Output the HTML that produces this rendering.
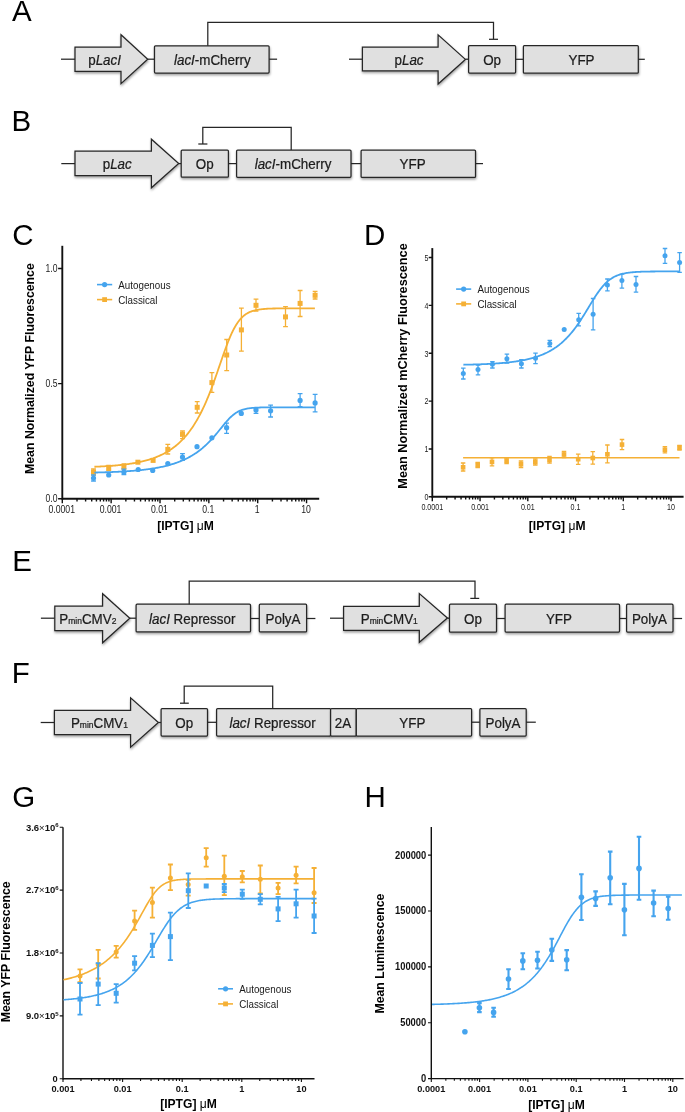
<!DOCTYPE html>
<html><head><meta charset="utf-8"><style>
html,body{margin:0;padding:0;background:#fff;}
svg{display:block;font-family:"Liberation Sans",sans-serif;will-change:transform;}
</style></head><body>
<svg width="685" height="1112" viewBox="0 0 685 1112">
<defs><filter id="sh" x="-10%" y="-20%" width="120%" height="150%"><feDropShadow dx="0.4" dy="1.6" stdDeviation="0.9" flood-color="#000" flood-opacity="0.38"/></filter></defs>
<rect width="685" height="1112" fill="#fff"/>
<text transform="translate(12,21.3) scale(1,1.03)" font-size="29.5" text-anchor="start" font-weight="normal" fill="#000" >A</text>
<text transform="translate(11.4,130.8) scale(1,1.03)" font-size="29.5" text-anchor="start" font-weight="normal" fill="#000" >B</text>
<text transform="translate(12.2,244.6) scale(1,1.03)" font-size="29.5" text-anchor="start" font-weight="normal" fill="#000" >C</text>
<text transform="translate(363.9,244.6) scale(1,1.03)" font-size="29.5" text-anchor="start" font-weight="normal" fill="#000" >D</text>
<text transform="translate(12.2,570.9) scale(1,1.03)" font-size="29.5" text-anchor="start" font-weight="normal" fill="#000" >E</text>
<text transform="translate(11.8,683.4) scale(1,1.03)" font-size="29.5" text-anchor="start" font-weight="normal" fill="#000" >F</text>
<text transform="translate(12.2,806.6) scale(1,1.03)" font-size="29.5" text-anchor="start" font-weight="normal" fill="#000" >G</text>
<text transform="translate(364.4,806.5) scale(1,1.03)" font-size="29.5" text-anchor="start" font-weight="normal" fill="#000" >H</text>
<line x1="61" y1="59.2" x2="75" y2="59.2" stroke="#262626" stroke-width="1.25" />
<polygon points="75,47.2 121,47.2 121,34.7 147.7,59.2 121,83.7 121,71.3 75,71.3" fill="#e0e0e0" stroke="#262626" stroke-width="1.25" stroke-linejoin="miter" filter="url(#sh)"/>
<line x1="147.7" y1="59.2" x2="154.5" y2="59.2" stroke="#262626" stroke-width="1.25" />
<rect x="154.5" y="45.8" width="114.6" height="27.2" rx="1" fill="#e0e0e0" stroke="#262626" stroke-width="1.25" filter="url(#sh)"/>
<line x1="269.1" y1="59.2" x2="277.1" y2="59.2" stroke="#262626" stroke-width="1.25" />
<polyline points="207.8,45.8 207.8,22.4 493.5,22.4 493.5,39.3" stroke="#262626" stroke-width="1.25" fill="none" />
<line x1="489" y1="39.3" x2="498" y2="39.3" stroke="#262626" stroke-width="1.25" />
<line x1="349" y1="59.2" x2="362.4" y2="59.2" stroke="#262626" stroke-width="1.25" />
<polygon points="362.4,47.2 438.1,47.2 438.1,34.8 465.4,59.4 438.1,84 438.1,70.8 362.4,70.8" fill="#e0e0e0" stroke="#262626" stroke-width="1.25" stroke-linejoin="miter" filter="url(#sh)"/>
<line x1="465.4" y1="59.2" x2="468.6" y2="59.2" stroke="#262626" stroke-width="1.25" />
<rect x="468.6" y="45.6" width="47" height="27.4" rx="1" fill="#e0e0e0" stroke="#262626" stroke-width="1.25" filter="url(#sh)"/>
<line x1="515.6" y1="59.3" x2="523.4" y2="59.3" stroke="#262626" stroke-width="1.25" />
<rect x="523.4" y="45.6" width="114.9" height="27.6" rx="1" fill="#e0e0e0" stroke="#262626" stroke-width="1.25" filter="url(#sh)"/>
<line x1="638.3" y1="59.3" x2="644.8" y2="59.3" stroke="#262626" stroke-width="1.25" />
<text transform="translate(104.6,64.5) scale(1,1.08)" font-size="13.4" text-anchor="middle" font-weight="normal" fill="#1c1c1c" stroke="#1c1c1c" stroke-width="0.22">p<tspan font-style="italic">LacI</tspan></text>
<text transform="translate(212.3,64.5) scale(1,1.08)" font-size="13.4" text-anchor="middle" font-weight="normal" fill="#1c1c1c" stroke="#1c1c1c" stroke-width="0.22"><tspan font-style="italic">lacI</tspan>-mCherry</text>
<text transform="translate(409,64.5) scale(1,1.08)" font-size="13.4" text-anchor="middle" font-weight="normal" fill="#1c1c1c" stroke="#1c1c1c" stroke-width="0.22">p<tspan font-style="italic">Lac</tspan></text>
<text transform="translate(492.1,64.5) scale(1,1.08)" font-size="13.4" text-anchor="middle" font-weight="normal" fill="#1c1c1c" stroke="#1c1c1c" stroke-width="0.22">Op</text>
<text transform="translate(581.5,64.5) scale(1,1.08)" font-size="13.4" text-anchor="middle" font-weight="normal" fill="#1c1c1c" stroke="#1c1c1c" stroke-width="0.22">YFP</text>
<line x1="61.3" y1="163.6" x2="75" y2="163.6" stroke="#262626" stroke-width="1.25" />
<polygon points="75,151.2 151.4,151.2 151.4,139.2 178.7,163.5 151.4,187.8 151.4,175.7 75,175.7" fill="#e0e0e0" stroke="#262626" stroke-width="1.25" stroke-linejoin="miter" filter="url(#sh)"/>
<line x1="178.7" y1="163.6" x2="181.2" y2="163.6" stroke="#262626" stroke-width="1.25" />
<rect x="181.2" y="150" width="47.2" height="27.2" rx="1" fill="#e0e0e0" stroke="#262626" stroke-width="1.25" filter="url(#sh)"/>
<line x1="228.4" y1="163.6" x2="236.6" y2="163.6" stroke="#262626" stroke-width="1.25" />
<rect x="236.6" y="150" width="114.4" height="27.3" rx="1" fill="#e0e0e0" stroke="#262626" stroke-width="1.25" filter="url(#sh)"/>
<line x1="351" y1="163.6" x2="361.1" y2="163.6" stroke="#262626" stroke-width="1.25" />
<rect x="361.1" y="150.1" width="114.4" height="27.3" rx="1" fill="#e0e0e0" stroke="#262626" stroke-width="1.25" filter="url(#sh)"/>
<line x1="475.5" y1="163.6" x2="483" y2="163.6" stroke="#262626" stroke-width="1.25" />
<polyline points="291.2,150 291.2,127.3 202.8,127.3 202.8,144" stroke="#262626" stroke-width="1.25" fill="none" />
<line x1="198.3" y1="144" x2="207.4" y2="144" stroke="#262626" stroke-width="1.25" />
<text transform="translate(117.2,168.6) scale(1,1.08)" font-size="13.4" text-anchor="middle" font-weight="normal" fill="#1c1c1c" stroke="#1c1c1c" stroke-width="0.22">p<tspan font-style="italic">Lac</tspan></text>
<text transform="translate(204.8,168.6) scale(1,1.08)" font-size="13.4" text-anchor="middle" font-weight="normal" fill="#1c1c1c" stroke="#1c1c1c" stroke-width="0.22">Op</text>
<text transform="translate(293,168.6) scale(1,1.08)" font-size="13.4" text-anchor="middle" font-weight="normal" fill="#1c1c1c" stroke="#1c1c1c" stroke-width="0.22"><tspan font-style="italic">lacI</tspan>-mCherry</text>
<text transform="translate(412.6,168.6) scale(1,1.08)" font-size="13.4" text-anchor="middle" font-weight="normal" fill="#1c1c1c" stroke="#1c1c1c" stroke-width="0.22">YFP</text>
<line x1="40.9" y1="618.2" x2="54.8" y2="618.2" stroke="#262626" stroke-width="1.25" />
<polygon points="54.8,606 102.6,606 102.6,593.7 129.8,618.25 102.6,642.8 102.6,630.5 54.8,630.5" fill="#e0e0e0" stroke="#262626" stroke-width="1.25" stroke-linejoin="miter" filter="url(#sh)"/>
<line x1="129.8" y1="618.2" x2="136.1" y2="618.2" stroke="#262626" stroke-width="1.25" />
<rect x="136.1" y="604.2" width="114.4" height="27.7" rx="1" fill="#e0e0e0" stroke="#262626" stroke-width="1.25" filter="url(#sh)"/>
<line x1="250.5" y1="618.5" x2="259.3" y2="618.5" stroke="#262626" stroke-width="1.25" />
<rect x="259.3" y="604.2" width="47.3" height="27.7" rx="1" fill="#e0e0e0" stroke="#262626" stroke-width="1.25" filter="url(#sh)"/>
<line x1="306.6" y1="618.5" x2="315.4" y2="618.5" stroke="#262626" stroke-width="1.25" />
<line x1="330" y1="618.2" x2="343.6" y2="618.2" stroke="#262626" stroke-width="1.25" />
<polygon points="343.6,606.3 419.3,606.3 419.3,593.6 447.4,617.95 419.3,642.3 419.3,630.4 343.6,630.4" fill="#e0e0e0" stroke="#262626" stroke-width="1.25" stroke-linejoin="miter" filter="url(#sh)"/>
<line x1="447.4" y1="618.2" x2="449.5" y2="618.2" stroke="#262626" stroke-width="1.25" />
<rect x="449.5" y="604.2" width="47" height="28" rx="1" fill="#e0e0e0" stroke="#262626" stroke-width="1.25" filter="url(#sh)"/>
<line x1="496.5" y1="618.5" x2="505.1" y2="618.5" stroke="#262626" stroke-width="1.25" />
<rect x="505.1" y="604.2" width="114.4" height="27.9" rx="1" fill="#e0e0e0" stroke="#262626" stroke-width="1.25" filter="url(#sh)"/>
<line x1="619.5" y1="618.5" x2="626.6" y2="618.5" stroke="#262626" stroke-width="1.25" />
<rect x="626.6" y="604.2" width="46.4" height="27.9" rx="1" fill="#e0e0e0" stroke="#262626" stroke-width="1.25" filter="url(#sh)"/>
<line x1="673" y1="618.5" x2="682.1" y2="618.5" stroke="#262626" stroke-width="1.25" />
<polyline points="189.2,604.2 189.2,581 475,581 475,598.4" stroke="#262626" stroke-width="1.25" fill="none" />
<line x1="470.3" y1="598.4" x2="479.2" y2="598.4" stroke="#262626" stroke-width="1.25" />
<text transform="translate(59.3,623.5) scale(1,1.08)" font-size="13.4" fill="#1c1c1c" stroke="#1c1c1c" stroke-width="0.22">P<tspan font-size="8.5">min</tspan>CMV<tspan font-size="8.5">2</tspan></text>
<text transform="translate(192.2,623.5) scale(1,1.08)" font-size="13.4" text-anchor="middle" font-weight="normal" fill="#1c1c1c" stroke="#1c1c1c" stroke-width="0.22"><tspan font-style="italic">lacI</tspan> Repressor</text>
<text transform="translate(283,623.5) scale(1,1.08)" font-size="13.4" text-anchor="middle" font-weight="normal" fill="#1c1c1c" stroke="#1c1c1c" stroke-width="0.22">PolyA</text>
<text transform="translate(360.7,623.5) scale(1,1.08)" font-size="13.4" fill="#1c1c1c" stroke="#1c1c1c" stroke-width="0.22">P<tspan font-size="8.5">min</tspan>CMV<tspan font-size="8.5">1</tspan></text>
<text transform="translate(473,623.5) scale(1,1.08)" font-size="13.4" text-anchor="middle" font-weight="normal" fill="#1c1c1c" stroke="#1c1c1c" stroke-width="0.22">Op</text>
<text transform="translate(558.9,623.5) scale(1,1.08)" font-size="13.4" text-anchor="middle" font-weight="normal" fill="#1c1c1c" stroke="#1c1c1c" stroke-width="0.22">YFP</text>
<text transform="translate(649.4,623.5) scale(1,1.08)" font-size="13.4" text-anchor="middle" font-weight="normal" fill="#1c1c1c" stroke="#1c1c1c" stroke-width="0.22">PolyA</text>
<line x1="40.7" y1="722.5" x2="54.4" y2="722.5" stroke="#262626" stroke-width="1.25" />
<polygon points="54.4,710.4 130.6,710.4 130.6,697.8 158.4,722.5 130.6,747.2 130.6,734.6 54.4,734.6" fill="#e0e0e0" stroke="#262626" stroke-width="1.25" stroke-linejoin="miter" filter="url(#sh)"/>
<line x1="158.4" y1="722.5" x2="161.1" y2="722.5" stroke="#262626" stroke-width="1.25" />
<rect x="161.1" y="708.6" width="46.4" height="27.5" rx="1" fill="#e0e0e0" stroke="#262626" stroke-width="1.25" filter="url(#sh)"/>
<line x1="207.5" y1="722.3" x2="216.6" y2="722.3" stroke="#262626" stroke-width="1.25" />
<rect x="216.6" y="708.6" width="114" height="27.4" rx="1" fill="#e0e0e0" stroke="#262626" stroke-width="1.25" filter="url(#sh)"/>
<rect x="330.6" y="708.6" width="25.7" height="27.4" rx="1" fill="#e0e0e0" stroke="#262626" stroke-width="1.25" filter="url(#sh)"/>
<rect x="356.3" y="708.6" width="115.3" height="27.4" rx="1" fill="#e0e0e0" stroke="#262626" stroke-width="1.25" filter="url(#sh)"/>
<line x1="471.6" y1="722.2" x2="479.9" y2="722.2" stroke="#262626" stroke-width="1.25" />
<rect x="479.9" y="708.6" width="46.3" height="27.4" rx="1" fill="#e0e0e0" stroke="#262626" stroke-width="1.25" filter="url(#sh)"/>
<line x1="526.2" y1="722.2" x2="535.8" y2="722.2" stroke="#262626" stroke-width="1.25" />
<polyline points="272.7,708.6 272.7,686.2 184.2,686.2 184.2,703.2" stroke="#262626" stroke-width="1.25" fill="none" />
<line x1="180" y1="703.2" x2="188.8" y2="703.2" stroke="#262626" stroke-width="1.25" />
<text transform="translate(70.9,727.7) scale(1,1.08)" font-size="13.4" fill="#1c1c1c" stroke="#1c1c1c" stroke-width="0.22">P<tspan font-size="8.5">min</tspan>CMV<tspan font-size="8.5">1</tspan></text>
<text transform="translate(184.3,727.7) scale(1,1.08)" font-size="13.4" text-anchor="middle" font-weight="normal" fill="#1c1c1c" stroke="#1c1c1c" stroke-width="0.22">Op</text>
<text transform="translate(272.6,727.7) scale(1,1.08)" font-size="13.4" text-anchor="middle" font-weight="normal" fill="#1c1c1c" stroke="#1c1c1c" stroke-width="0.22"><tspan font-style="italic">lacI</tspan> Repressor</text>
<text transform="translate(343,727.7) scale(1,1.08)" font-size="13.4" text-anchor="middle" font-weight="normal" fill="#1c1c1c" stroke="#1c1c1c" stroke-width="0.22">2A</text>
<text transform="translate(412.3,727.7) scale(1,1.08)" font-size="13.4" text-anchor="middle" font-weight="normal" fill="#1c1c1c" stroke="#1c1c1c" stroke-width="0.22">YFP</text>
<text transform="translate(503,727.7) scale(1,1.08)" font-size="13.4" text-anchor="middle" font-weight="normal" fill="#1c1c1c" stroke="#1c1c1c" stroke-width="0.22">PolyA</text>
<line x1="62.3" y1="498.7" x2="319.2" y2="498.7" stroke="#111" stroke-width="1.9"/>
<path d="M62.3,498.7v4.6M77.01,498.7v2.9M85.61,498.7v2.9M91.71,498.7v2.9M96.44,498.7v2.9M100.31,498.7v2.9M103.58,498.7v2.9M106.42,498.7v2.9M108.91,498.7v2.9M111.15,498.7v4.6M125.86,498.7v2.9M134.46,498.7v2.9M140.56,498.7v2.9M145.29,498.7v2.9M149.16,498.7v2.9M152.43,498.7v2.9M155.27,498.7v2.9M157.76,498.7v2.9M160,498.7v4.6M174.71,498.7v2.9M183.31,498.7v2.9M189.41,498.7v2.9M194.14,498.7v2.9M198.01,498.7v2.9M201.28,498.7v2.9M204.12,498.7v2.9M206.61,498.7v2.9M208.85,498.7v4.6M223.56,498.7v2.9M232.16,498.7v2.9M238.26,498.7v2.9M242.99,498.7v2.9M246.86,498.7v2.9M250.13,498.7v2.9M252.97,498.7v2.9M255.46,498.7v2.9M257.7,498.7v4.6M272.41,498.7v2.9M281.01,498.7v2.9M287.11,498.7v2.9M291.84,498.7v2.9M295.71,498.7v2.9M298.98,498.7v2.9M301.82,498.7v2.9M304.31,498.7v2.9M306.55,498.7v4.6" stroke="#111" stroke-width="1.4" fill="none"/>
<line x1="62.3" y1="499.65" x2="62.3" y2="245.8" stroke="#111" stroke-width="1.9"/>
<path d="M62.3,498.7h-4.2M62.3,383.6h-4.2M62.3,268.5h-4.2" stroke="#111" stroke-width="1.4" fill="none"/>
<text transform="translate(57.5,502.3) scale(1,1.2)" font-size="8.6" text-anchor="end" font-weight="normal" fill="#1a1a1a" >0.0</text>
<text transform="translate(57.5,387.2) scale(1,1.2)" font-size="8.6" text-anchor="end" font-weight="normal" fill="#1a1a1a" >0.5</text>
<text transform="translate(57.5,272.1) scale(1,1.2)" font-size="8.6" text-anchor="end" font-weight="normal" fill="#1a1a1a" >1.0</text>
<text transform="translate(61.7,512.8) scale(1,1.2)" font-size="8.7" text-anchor="middle" font-weight="normal" fill="#1a1a1a" >0.0001</text>
<text transform="translate(110.55,512.8) scale(1,1.2)" font-size="8.7" text-anchor="middle" font-weight="normal" fill="#1a1a1a" >0.001</text>
<text transform="translate(159.4,512.8) scale(1,1.2)" font-size="8.7" text-anchor="middle" font-weight="normal" fill="#1a1a1a" >0.01</text>
<text transform="translate(208.25,512.8) scale(1,1.2)" font-size="8.7" text-anchor="middle" font-weight="normal" fill="#1a1a1a" >0.1</text>
<text transform="translate(257.1,512.8) scale(1,1.2)" font-size="8.7" text-anchor="middle" font-weight="normal" fill="#1a1a1a" >1</text>
<text transform="translate(305.95,512.8) scale(1,1.2)" font-size="8.7" text-anchor="middle" font-weight="normal" fill="#1a1a1a" >10</text>
<text transform="translate(34.4,368.6) rotate(-90)" font-size="12.3" font-weight="bold" text-anchor="middle" fill="#000">Mean Normalized YFP Fluorescence</text>
<text x="185.5" y="530.4" font-size="12.1" font-weight="bold" text-anchor="middle" fill="#000">[IPTG] <tspan font-weight="normal">μ</tspan>M</text>
<line x1="97" y1="284.6" x2="112.2" y2="284.6" stroke="#45a4ee" stroke-width="1.6" />
<circle cx="104.6" cy="284.6" r="2.6" fill="#45a4ee"/>
<line x1="97" y1="299.6" x2="112.2" y2="299.6" stroke="#f5b035" stroke-width="1.6" />
<rect x="102.2" y="297.2" width="4.8" height="4.8" fill="#f5b035"/>
<text transform="translate(118.3,288.6) scale(1,1.1)" font-size="9.8" text-anchor="start" font-weight="normal" fill="#1a1a1a" >Autogenous</text>
<text transform="translate(118.3,303.6) scale(1,1.1)" font-size="9.8" text-anchor="start" font-weight="normal" fill="#1a1a1a" >Classical</text>
<polyline points="94.4,466.77 95.4,466.73 96.4,466.69 97.39,466.64 98.39,466.6 99.39,466.55 100.39,466.5 101.38,466.45 102.38,466.4 103.38,466.34 104.38,466.28 105.38,466.22 106.37,466.16 107.37,466.1 108.37,466.03 109.37,465.96 110.36,465.89 111.36,465.81 112.36,465.74 113.36,465.66 114.35,465.57 115.35,465.49 116.35,465.4 117.35,465.3 118.35,465.21 119.34,465.11 120.34,465 121.34,464.9 122.34,464.78 123.33,464.67 124.33,464.55 125.33,464.42 126.33,464.29 127.33,464.16 128.32,464.02 129.32,463.88 130.32,463.73 131.32,463.57 132.31,463.41 133.31,463.24 134.31,463.07 135.31,462.89 136.3,462.7 137.3,462.51 138.3,462.31 139.3,462.1 140.3,461.89 141.29,461.66 142.29,461.43 143.29,461.19 144.29,460.94 145.28,460.68 146.28,460.41 147.28,460.13 148.28,459.84 149.28,459.54 150.27,459.23 151.27,458.91 152.27,458.57 153.27,458.23 154.26,457.86 155.26,457.49 156.26,457.1 157.26,456.7 158.26,456.28 159.25,455.85 160.25,455.4 161.25,454.93 162.25,454.45 163.24,453.95 164.24,453.43 165.24,452.89 166.24,452.33 167.23,451.75 168.23,451.15 169.23,450.52 170.23,449.87 171.23,449.2 172.22,448.51 173.22,447.78 174.22,447.03 175.22,446.26 176.21,445.45 177.21,444.61 178.21,443.75 179.21,442.85 180.21,441.91 181.2,440.95 182.2,439.94 183.2,438.9 184.2,437.82 185.19,436.71 186.19,435.55 187.19,434.35 188.19,433.1 189.19,431.81 190.18,430.48 191.18,429.09 192.18,427.66 193.18,426.17 194.17,424.63 195.17,423.04 196.17,421.39 197.17,419.68 198.16,417.92 199.16,416.09 200.16,414.21 201.16,412.26 202.16,410.25 203.15,408.17 204.15,406.03 205.15,403.83 206.15,401.56 207.14,399.22 208.14,396.82 209.14,394.35 210.14,391.83 211.14,389.24 212.13,386.6 213.13,383.9 214.13,381.16 215.13,378.37 216.12,375.54 217.12,372.68 218.12,369.8 219.12,366.9 220.11,363.99 221.11,361.09 222.11,358.2 223.11,355.33 224.11,352.51 225.1,349.73 226.1,347.01 227.1,344.36 228.1,341.79 229.09,339.31 230.09,336.93 231.09,334.65 232.09,332.49 233.09,330.45 234.08,328.52 235.08,326.71 236.08,325.03 237.08,323.46 238.07,322.01 239.07,320.68 240.07,319.45 241.07,318.33 242.07,317.3 243.06,316.37 244.06,315.52 245.06,314.76 246.06,314.07 247.05,313.45 248.05,312.89 249.05,312.38 250.05,311.93 251.04,311.53 252.04,311.17 253.04,310.85 254.04,310.56 255.04,310.31 256.03,310.08 257.03,309.88 258.03,309.7 259.03,309.54 260.02,309.4 261.02,309.27 262.02,309.16 263.02,309.06 264.02,308.98 265.01,308.9 266.01,308.83 267.01,308.77 268.01,308.71 269,308.67 270,308.62 271,308.59 272,308.55 273,308.52 273.99,308.5 274.99,308.48 275.99,308.46 276.99,308.44 277.98,308.42 278.98,308.41 279.98,308.4 280.98,308.38 281.97,308.37 282.97,308.37 283.97,308.36 284.97,308.35 285.97,308.35 286.96,308.34 287.96,308.34 288.96,308.33 289.96,308.33 290.95,308.32 291.95,308.32 292.95,308.32 293.95,308.32 294.95,308.32 295.94,308.31 296.94,308.31 297.94,308.31 298.94,308.31 299.93,308.31 300.93,308.31 301.93,308.31 302.93,308.31 303.92,308.3 304.92,308.3 305.92,308.3 306.92,308.3 307.92,308.3 308.91,308.3 309.91,308.3 310.91,308.3 311.91,308.3 312.9,308.3 313.9,308.3 314.9,308.3" fill="none" stroke="#f5b035" stroke-width="1.8" stroke-linejoin="round"/>
<path d="M93.5,469V475M91.1,469h4.8M91.1,475h4.8" stroke="#f5b035" stroke-width="1.3" fill="none"/>
<rect x="91" y="469.6" width="5" height="5" fill="#f5b035"/>
<path d="M108.7,465.5V470.5M106.3,465.5h4.8M106.3,470.5h4.8" stroke="#f5b035" stroke-width="1.3" fill="none"/>
<rect x="106.2" y="465.5" width="5" height="5" fill="#f5b035"/>
<path d="M123.9,464V469M121.5,464h4.8M121.5,469h4.8" stroke="#f5b035" stroke-width="1.3" fill="none"/>
<rect x="121.4" y="464.1" width="5" height="5" fill="#f5b035"/>
<rect x="135.4" y="459.7" width="5" height="5" fill="#f5b035"/>
<rect x="150.6" y="457.9" width="5" height="5" fill="#f5b035"/>
<path d="M167.8,444.4V454M165.4,444.4h4.8M165.4,454h4.8" stroke="#f5b035" stroke-width="1.3" fill="none"/>
<rect x="165.3" y="446.9" width="5" height="5" fill="#f5b035"/>
<path d="M182.5,431V438.6M180.1,431h4.8M180.1,438.6h4.8" stroke="#f5b035" stroke-width="1.3" fill="none"/>
<rect x="180" y="431.9" width="5" height="5" fill="#f5b035"/>
<path d="M197.2,401.6V413M194.8,401.6h4.8M194.8,413h4.8" stroke="#f5b035" stroke-width="1.3" fill="none"/>
<rect x="194.7" y="404.8" width="5" height="5" fill="#f5b035"/>
<path d="M211.9,372.7V392.4M209.5,372.7h4.8M209.5,392.4h4.8" stroke="#f5b035" stroke-width="1.3" fill="none"/>
<rect x="209.4" y="380.1" width="5" height="5" fill="#f5b035"/>
<path d="M226.7,339.5V370.7M224.3,339.5h4.8M224.3,370.7h4.8" stroke="#f5b035" stroke-width="1.3" fill="none"/>
<rect x="224.2" y="352.5" width="5" height="5" fill="#f5b035"/>
<path d="M241.4,308.2V351.1M239,308.2h4.8M239,351.1h4.8" stroke="#f5b035" stroke-width="1.3" fill="none"/>
<rect x="238.9" y="327.4" width="5" height="5" fill="#f5b035"/>
<path d="M256,299.2V311M253.6,299.2h4.8M253.6,311h4.8" stroke="#f5b035" stroke-width="1.3" fill="none"/>
<rect x="253.5" y="302.8" width="5" height="5" fill="#f5b035"/>
<path d="M285.5,306.7V326.7M283.1,306.7h4.8M283.1,326.7h4.8" stroke="#f5b035" stroke-width="1.3" fill="none"/>
<rect x="283" y="314.4" width="5" height="5" fill="#f5b035"/>
<path d="M300.1,290.5V316.5M297.7,290.5h4.8M297.7,316.5h4.8" stroke="#f5b035" stroke-width="1.3" fill="none"/>
<rect x="297.6" y="300.9" width="5" height="5" fill="#f5b035"/>
<path d="M315.1,291.4V299M312.7,291.4h4.8M312.7,299h4.8" stroke="#f5b035" stroke-width="1.3" fill="none"/>
<rect x="312.6" y="292.8" width="5" height="5" fill="#f5b035"/>
<polyline points="94.4,472.55 95.4,472.53 96.4,472.5 97.39,472.48 98.39,472.45 99.39,472.43 100.39,472.4 101.38,472.38 102.38,472.35 103.38,472.32 104.38,472.29 105.38,472.26 106.37,472.23 107.37,472.19 108.37,472.16 109.37,472.12 110.36,472.08 111.36,472.05 112.36,472.01 113.36,471.97 114.35,471.92 115.35,471.88 116.35,471.84 117.35,471.79 118.35,471.74 119.34,471.69 120.34,471.64 121.34,471.59 122.34,471.53 123.33,471.47 124.33,471.41 125.33,471.35 126.33,471.29 127.33,471.22 128.32,471.16 129.32,471.09 130.32,471.01 131.32,470.94 132.31,470.86 133.31,470.78 134.31,470.7 135.31,470.61 136.3,470.52 137.3,470.43 138.3,470.34 139.3,470.24 140.3,470.14 141.29,470.03 142.29,469.92 143.29,469.81 144.29,469.69 145.28,469.57 146.28,469.45 147.28,469.32 148.28,469.19 149.28,469.05 150.27,468.91 151.27,468.76 152.27,468.6 153.27,468.45 154.26,468.28 155.26,468.11 156.26,467.94 157.26,467.76 158.26,467.57 159.25,467.38 160.25,467.18 161.25,466.97 162.25,466.76 163.24,466.54 164.24,466.31 165.24,466.07 166.24,465.83 167.23,465.57 168.23,465.31 169.23,465.04 170.23,464.76 171.23,464.47 172.22,464.17 173.22,463.86 174.22,463.54 175.22,463.2 176.21,462.86 177.21,462.5 178.21,462.14 179.21,461.76 180.21,461.36 181.2,460.96 182.2,460.53 183.2,460.1 184.2,459.65 185.19,459.18 186.19,458.7 187.19,458.2 188.19,457.69 189.19,457.16 190.18,456.61 191.18,456.04 192.18,455.45 193.18,454.84 194.17,454.21 195.17,453.56 196.17,452.89 197.17,452.19 198.16,451.48 199.16,450.74 200.16,449.97 201.16,449.18 202.16,448.37 203.15,447.53 204.15,446.66 205.15,445.76 206.15,444.84 207.14,443.89 208.14,442.92 209.14,441.91 210.14,440.88 211.14,439.83 212.13,438.74 213.13,437.63 214.13,436.5 215.13,435.34 216.12,434.17 217.12,432.97 218.12,431.76 219.12,430.54 220.11,429.31 221.11,428.08 222.11,426.84 223.11,425.62 224.11,424.41 225.1,423.21 226.1,422.04 227.1,420.9 228.1,419.79 229.09,418.73 230.09,417.72 231.09,416.75 232.09,415.84 233.09,414.99 234.08,414.2 235.08,413.46 236.08,412.79 237.08,412.17 238.07,411.61 239.07,411.11 240.07,410.65 241.07,410.24 242.07,409.88 243.06,409.56 244.06,409.27 245.06,409.02 246.06,408.8 247.05,408.6 248.05,408.43 249.05,408.28 250.05,408.15 251.04,408.04 252.04,407.94 253.04,407.85 254.04,407.78 255.04,407.72 256.03,407.66 257.03,407.61 258.03,407.57 259.03,407.53 260.02,407.5 261.02,407.47 262.02,407.45 263.02,407.43 264.02,407.41 265.01,407.4 266.01,407.38 267.01,407.37 268.01,407.36 269,407.35 270,407.35 271,407.34 272,407.33 273,407.33 273.99,407.33 274.99,407.32 275.99,407.32 276.99,407.32 277.98,407.31 278.98,407.31 279.98,407.31 280.98,407.31 281.97,407.31 282.97,407.31 283.97,407.31 284.97,407.31 285.97,407.3 286.96,407.3 287.96,407.3 288.96,407.3 289.96,407.3 290.95,407.3 291.95,407.3 292.95,407.3 293.95,407.3 294.95,407.3 295.94,407.3 296.94,407.3 297.94,407.3 298.94,407.3 299.93,407.3 300.93,407.3 301.93,407.3 302.93,407.3 303.92,407.3 304.92,407.3 305.92,407.3 306.92,407.3 307.92,407.3 308.91,407.3 309.91,407.3 310.91,407.3 311.91,407.3 312.9,407.3 313.9,407.3 314.9,407.3" fill="none" stroke="#45a4ee" stroke-width="1.8" stroke-linejoin="round"/>
<path d="M93.5,475V481M91.1,475h4.8M91.1,481h4.8" stroke="#45a4ee" stroke-width="1.3" fill="none"/>
<circle cx="93.5" cy="478" r="2.6" fill="#45a4ee"/>
<circle cx="108.7" cy="475" r="2.6" fill="#45a4ee"/>
<path d="M123.9,469.2V474.5M121.5,469.2h4.8M121.5,474.5h4.8" stroke="#45a4ee" stroke-width="1.3" fill="none"/>
<circle cx="123.9" cy="472.1" r="2.6" fill="#45a4ee"/>
<circle cx="138.2" cy="469.5" r="2.6" fill="#45a4ee"/>
<circle cx="152.7" cy="470.4" r="2.6" fill="#45a4ee"/>
<circle cx="167.8" cy="463.6" r="2.6" fill="#45a4ee"/>
<path d="M182.5,453.7V460.3M180.1,453.7h4.8M180.1,460.3h4.8" stroke="#45a4ee" stroke-width="1.3" fill="none"/>
<circle cx="182.5" cy="457" r="2.6" fill="#45a4ee"/>
<circle cx="197" cy="446.7" r="2.6" fill="#45a4ee"/>
<circle cx="211.9" cy="437.8" r="2.6" fill="#45a4ee"/>
<path d="M226.6,423.1V433.3M224.2,423.1h4.8M224.2,433.3h4.8" stroke="#45a4ee" stroke-width="1.3" fill="none"/>
<circle cx="226.6" cy="427.7" r="2.6" fill="#45a4ee"/>
<circle cx="241.3" cy="413.4" r="2.6" fill="#45a4ee"/>
<path d="M256,408V413.4M253.6,408h4.8M253.6,413.4h4.8" stroke="#45a4ee" stroke-width="1.3" fill="none"/>
<circle cx="256" cy="410.1" r="2.6" fill="#45a4ee"/>
<path d="M270.6,405.2V417M268.2,405.2h4.8M268.2,417h4.8" stroke="#45a4ee" stroke-width="1.3" fill="none"/>
<circle cx="270.6" cy="410.8" r="2.6" fill="#45a4ee"/>
<path d="M300.1,393.6V406.7M297.7,393.6h4.8M297.7,406.7h4.8" stroke="#45a4ee" stroke-width="1.3" fill="none"/>
<circle cx="300.1" cy="400.4" r="2.6" fill="#45a4ee"/>
<path d="M315.1,394.3V411.8M312.7,394.3h4.8M312.7,411.8h4.8" stroke="#45a4ee" stroke-width="1.3" fill="none"/>
<circle cx="315.1" cy="402.9" r="2.6" fill="#45a4ee"/>
<line x1="432.3" y1="496.8" x2="683.6" y2="496.8" stroke="#111" stroke-width="1.9"/>
<path d="M432.3,496.8v4.4M446.67,496.8v2.8M455.08,496.8v2.8M461.05,496.8v2.8M465.68,496.8v2.8M469.46,496.8v2.8M472.65,496.8v2.8M475.42,496.8v2.8M477.87,496.8v2.8M480.05,496.8v4.4M494.42,496.8v2.8M502.83,496.8v2.8M508.8,496.8v2.8M513.43,496.8v2.8M517.21,496.8v2.8M520.4,496.8v2.8M523.17,496.8v2.8M525.62,496.8v2.8M527.8,496.8v4.4M542.17,496.8v2.8M550.58,496.8v2.8M556.55,496.8v2.8M561.18,496.8v2.8M564.96,496.8v2.8M568.15,496.8v2.8M570.92,496.8v2.8M573.37,496.8v2.8M575.55,496.8v4.4M589.92,496.8v2.8M598.33,496.8v2.8M604.3,496.8v2.8M608.93,496.8v2.8M612.71,496.8v2.8M615.9,496.8v2.8M618.67,496.8v2.8M621.12,496.8v2.8M623.3,496.8v4.4M637.67,496.8v2.8M646.08,496.8v2.8M652.05,496.8v2.8M656.68,496.8v2.8M660.46,496.8v2.8M663.65,496.8v2.8M666.42,496.8v2.8M668.87,496.8v2.8M671.05,496.8v4.4" stroke="#111" stroke-width="1.4" fill="none"/>
<line x1="432.3" y1="497.75" x2="432.3" y2="248.1" stroke="#111" stroke-width="1.9"/>
<path d="M432.3,496.8h-3.6M432.3,448.94h-3.6M432.3,401.08h-3.6M432.3,353.22h-3.6M432.3,305.36h-3.6M432.3,257.5h-3.6" stroke="#111" stroke-width="1.4" fill="none"/>
<text transform="translate(428.3,500.2) scale(0.8,1.12)" font-size="8.8" text-anchor="end" fill="#1a1a1a">0</text>
<text transform="translate(428.3,452.34) scale(0.8,1.12)" font-size="8.8" text-anchor="end" fill="#1a1a1a">1</text>
<text transform="translate(428.3,404.48) scale(0.8,1.12)" font-size="8.8" text-anchor="end" fill="#1a1a1a">2</text>
<text transform="translate(428.3,356.62) scale(0.8,1.12)" font-size="8.8" text-anchor="end" fill="#1a1a1a">3</text>
<text transform="translate(428.3,308.76) scale(0.8,1.12)" font-size="8.8" text-anchor="end" fill="#1a1a1a">4</text>
<text transform="translate(428.3,260.9) scale(0.8,1.12)" font-size="8.8" text-anchor="end" fill="#1a1a1a">5</text>
<text transform="translate(432.3,510.1) scale(0.82,1)" font-size="8.7" text-anchor="middle" fill="#1a1a1a">0.0001</text>
<text transform="translate(480.05,510.1) scale(0.82,1)" font-size="8.7" text-anchor="middle" fill="#1a1a1a">0.001</text>
<text transform="translate(527.8,510.1) scale(0.82,1)" font-size="8.7" text-anchor="middle" fill="#1a1a1a">0.01</text>
<text transform="translate(575.55,510.1) scale(0.82,1)" font-size="8.7" text-anchor="middle" fill="#1a1a1a">0.1</text>
<text transform="translate(623.3,510.1) scale(0.82,1)" font-size="8.7" text-anchor="middle" fill="#1a1a1a">1</text>
<text transform="translate(671.05,510.1) scale(0.82,1)" font-size="8.7" text-anchor="middle" fill="#1a1a1a">10</text>
<text transform="translate(407,366) rotate(-90)" font-size="12.7" font-weight="bold" text-anchor="middle" fill="#000">Mean Normalized mCherry Fluorescence</text>
<text x="557.2" y="530.2" font-size="12.1" font-weight="bold" text-anchor="middle" fill="#000">[IPTG] <tspan font-weight="normal">μ</tspan>M</text>
<line x1="456.1" y1="289.1" x2="471.2" y2="289.1" stroke="#45a4ee" stroke-width="1.6" />
<circle cx="463.65" cy="289.1" r="2.6" fill="#45a4ee"/>
<line x1="456.1" y1="303.9" x2="471.2" y2="303.9" stroke="#f5b035" stroke-width="1.6" />
<rect x="461.25" y="301.5" width="4.8" height="4.8" fill="#f5b035"/>
<text transform="translate(477.4,293.1) scale(1,1.1)" font-size="9.8" text-anchor="start" font-weight="normal" fill="#1a1a1a" >Autogenous</text>
<text transform="translate(477.4,307.9) scale(1,1.1)" font-size="9.8" text-anchor="start" font-weight="normal" fill="#1a1a1a" >Classical</text>
<polyline points="463.4,364.73 464.4,364.71 465.39,364.69 466.39,364.67 467.39,364.65 468.38,364.63 469.38,364.6 470.37,364.58 471.37,364.55 472.37,364.53 473.36,364.5 474.36,364.47 475.36,364.44 476.35,364.41 477.35,364.38 478.34,364.35 479.34,364.31 480.34,364.28 481.33,364.24 482.33,364.2 483.33,364.16 484.32,364.12 485.32,364.08 486.32,364.03 487.31,363.99 488.31,363.94 489.3,363.89 490.3,363.83 491.3,363.78 492.29,363.72 493.29,363.66 494.29,363.6 495.28,363.54 496.28,363.47 497.27,363.4 498.27,363.33 499.27,363.25 500.26,363.18 501.26,363.09 502.26,363.01 503.25,362.92 504.25,362.83 505.25,362.74 506.24,362.64 507.24,362.54 508.23,362.43 509.23,362.32 510.23,362.2 511.22,362.08 512.22,361.96 513.22,361.83 514.21,361.7 515.21,361.56 516.2,361.41 517.2,361.26 518.2,361.1 519.19,360.94 520.19,360.77 521.19,360.59 522.18,360.41 523.18,360.22 524.18,360.02 525.17,359.81 526.17,359.6 527.16,359.37 528.16,359.14 529.16,358.9 530.15,358.65 531.15,358.39 532.15,358.11 533.14,357.83 534.14,357.54 535.13,357.23 536.13,356.92 537.13,356.59 538.12,356.24 539.12,355.89 540.12,355.52 541.11,355.13 542.11,354.73 543.11,354.31 544.1,353.88 545.1,353.43 546.09,352.96 547.09,352.48 548.09,351.97 549.08,351.45 550.08,350.9 551.08,350.34 552.07,349.75 553.07,349.14 554.06,348.5 555.06,347.84 556.06,347.16 557.05,346.45 558.05,345.71 559.05,344.95 560.04,344.15 561.04,343.33 562.04,342.47 563.03,341.59 564.03,340.67 565.02,339.72 566.02,338.74 567.02,337.72 568.01,336.66 569.01,335.57 570.01,334.45 571,333.29 572,332.09 572.99,330.85 573.99,329.58 574.99,328.27 575.98,326.92 576.98,325.54 577.98,324.12 578.97,322.67 579.97,321.18 580.96,319.67 581.96,318.12 582.96,316.55 583.95,314.96 584.95,313.35 585.95,311.72 586.94,310.08 587.94,308.43 588.94,306.77 589.93,305.12 590.93,303.48 591.92,301.85 592.92,300.23 593.92,298.64 594.91,297.08 595.91,295.55 596.91,294.06 597.9,292.62 598.9,291.22 599.89,289.87 600.89,288.57 601.89,287.34 602.88,286.16 603.88,285.04 604.88,283.98 605.87,282.98 606.87,282.04 607.87,281.17 608.86,280.35 609.86,279.58 610.85,278.88 611.85,278.22 612.85,277.61 613.84,277.06 614.84,276.54 615.84,276.07 616.83,275.64 617.83,275.24 618.82,274.88 619.82,274.55 620.82,274.25 621.81,273.98 622.81,273.73 623.81,273.51 624.8,273.3 625.8,273.12 626.8,272.95 627.79,272.8 628.79,272.66 629.78,272.54 630.78,272.42 631.78,272.32 632.77,272.23 633.77,272.15 634.77,272.07 635.76,272.01 636.76,271.95 637.75,271.89 638.75,271.84 639.75,271.8 640.74,271.76 641.74,271.72 642.74,271.69 643.73,271.66 644.73,271.64 645.73,271.61 646.72,271.59 647.72,271.57 648.71,271.55 649.71,271.54 650.71,271.52 651.7,271.51 652.7,271.5 653.7,271.49 654.69,271.48 655.69,271.47 656.68,271.47 657.68,271.46 658.68,271.45 659.67,271.45 660.67,271.44 661.67,271.44 662.66,271.43 663.66,271.43 664.66,271.43 665.65,271.43 666.65,271.42 667.64,271.42 668.64,271.42 669.64,271.42 670.63,271.41 671.63,271.41 672.63,271.41 673.62,271.41 674.62,271.41 675.61,271.41 676.61,271.41 677.61,271.41 678.6,271.41 679.6,271.41" fill="none" stroke="#45a4ee" stroke-width="1.8" stroke-linejoin="round"/>
<line x1="463.1" y1="457.8" x2="679.5" y2="457.8" stroke="#f5b035" stroke-width="1.6"/>
<path d="M463.3,368.2V379M461.05,368.2h4.5M461.05,379h4.5" stroke="#45a4ee" stroke-width="1.3" fill="none"/>
<circle cx="463.3" cy="373.5" r="2.5" fill="#45a4ee"/>
<path d="M478,365V374.8M475.75,365h4.5M475.75,374.8h4.5" stroke="#45a4ee" stroke-width="1.3" fill="none"/>
<circle cx="478" cy="369.6" r="2.5" fill="#45a4ee"/>
<path d="M492.4,361.7V368M490.15,361.7h4.5M490.15,368h4.5" stroke="#45a4ee" stroke-width="1.3" fill="none"/>
<circle cx="492.4" cy="364.3" r="2.5" fill="#45a4ee"/>
<path d="M506.9,354.2V363M504.65,354.2h4.5M504.65,363h4.5" stroke="#45a4ee" stroke-width="1.3" fill="none"/>
<circle cx="506.9" cy="358.7" r="2.5" fill="#45a4ee"/>
<path d="M521.4,359.7V368M519.15,359.7h4.5M519.15,368h4.5" stroke="#45a4ee" stroke-width="1.3" fill="none"/>
<circle cx="521.4" cy="363.7" r="2.5" fill="#45a4ee"/>
<path d="M535.5,353.1V363.7M533.25,353.1h4.5M533.25,363.7h4.5" stroke="#45a4ee" stroke-width="1.3" fill="none"/>
<circle cx="535.5" cy="358.2" r="2.5" fill="#45a4ee"/>
<path d="M549.8,340.3V346.7M547.55,340.3h4.5M547.55,346.7h4.5" stroke="#45a4ee" stroke-width="1.3" fill="none"/>
<circle cx="549.8" cy="343.5" r="2.5" fill="#45a4ee"/>
<circle cx="564.2" cy="329.4" r="2.5" fill="#45a4ee"/>
<path d="M578.7,313.3V325.8M576.45,313.3h4.5M576.45,325.8h4.5" stroke="#45a4ee" stroke-width="1.3" fill="none"/>
<circle cx="578.7" cy="319.7" r="2.5" fill="#45a4ee"/>
<path d="M593.1,298.5V329.9M590.85,298.5h4.5M590.85,329.9h4.5" stroke="#45a4ee" stroke-width="1.3" fill="none"/>
<circle cx="593.1" cy="314.3" r="2.5" fill="#45a4ee"/>
<path d="M607.4,279V290.8M605.15,279h4.5M605.15,290.8h4.5" stroke="#45a4ee" stroke-width="1.3" fill="none"/>
<circle cx="607.4" cy="284.9" r="2.5" fill="#45a4ee"/>
<path d="M621.9,274.1V288.1M619.65,274.1h4.5M619.65,288.1h4.5" stroke="#45a4ee" stroke-width="1.3" fill="none"/>
<circle cx="621.9" cy="280.6" r="2.5" fill="#45a4ee"/>
<path d="M636,276.5V292.1M633.75,276.5h4.5M633.75,292.1h4.5" stroke="#45a4ee" stroke-width="1.3" fill="none"/>
<circle cx="636" cy="284.4" r="2.5" fill="#45a4ee"/>
<path d="M665,248.5V263.3M662.75,248.5h4.5M662.75,263.3h4.5" stroke="#45a4ee" stroke-width="1.3" fill="none"/>
<circle cx="665" cy="255.8" r="2.5" fill="#45a4ee"/>
<path d="M679.6,252.6V272.3M677.35,252.6h4.5M677.35,272.3h4.5" stroke="#45a4ee" stroke-width="1.3" fill="none"/>
<circle cx="679.6" cy="262.4" r="2.5" fill="#45a4ee"/>
<path d="M463.1,463V471M460.85,463h4.5M460.85,471h4.5" stroke="#f5b035" stroke-width="1.3" fill="none"/>
<rect x="460.8" y="465" width="4.6" height="4.6" fill="#f5b035"/>
<path d="M477.7,462.5V467.5M475.45,462.5h4.5M475.45,467.5h4.5" stroke="#f5b035" stroke-width="1.3" fill="none"/>
<rect x="475.4" y="462.7" width="4.6" height="4.6" fill="#f5b035"/>
<path d="M492,457.8V465.8M489.75,457.8h4.5M489.75,465.8h4.5" stroke="#f5b035" stroke-width="1.3" fill="none"/>
<rect x="489.7" y="459.6" width="4.6" height="4.6" fill="#f5b035"/>
<path d="M506.6,458V463.5M504.35,458h4.5M504.35,463.5h4.5" stroke="#f5b035" stroke-width="1.3" fill="none"/>
<rect x="504.3" y="458.4" width="4.6" height="4.6" fill="#f5b035"/>
<path d="M521,461V467.5M518.75,461h4.5M518.75,467.5h4.5" stroke="#f5b035" stroke-width="1.3" fill="none"/>
<rect x="518.7" y="461.9" width="4.6" height="4.6" fill="#f5b035"/>
<path d="M535.3,459V465M533.05,459h4.5M533.05,465h4.5" stroke="#f5b035" stroke-width="1.3" fill="none"/>
<rect x="533" y="459.7" width="4.6" height="4.6" fill="#f5b035"/>
<path d="M549.5,456.5V463M547.25,456.5h4.5M547.25,463h4.5" stroke="#f5b035" stroke-width="1.3" fill="none"/>
<rect x="547.2" y="457.5" width="4.6" height="4.6" fill="#f5b035"/>
<path d="M564,451.5V457.5M561.75,451.5h4.5M561.75,457.5h4.5" stroke="#f5b035" stroke-width="1.3" fill="none"/>
<rect x="561.7" y="452.2" width="4.6" height="4.6" fill="#f5b035"/>
<path d="M578.2,454.1V464.3M575.95,454.1h4.5M575.95,464.3h4.5" stroke="#f5b035" stroke-width="1.3" fill="none"/>
<rect x="575.9" y="456.9" width="4.6" height="4.6" fill="#f5b035"/>
<path d="M592.8,451.6V464.2M590.55,451.6h4.5M590.55,464.2h4.5" stroke="#f5b035" stroke-width="1.3" fill="none"/>
<rect x="590.5" y="455.7" width="4.6" height="4.6" fill="#f5b035"/>
<path d="M607.4,445V462.9M605.15,445h4.5M605.15,462.9h4.5" stroke="#f5b035" stroke-width="1.3" fill="none"/>
<rect x="605.1" y="452" width="4.6" height="4.6" fill="#f5b035"/>
<path d="M622,439.5V449.6M619.75,439.5h4.5M619.75,449.6h4.5" stroke="#f5b035" stroke-width="1.3" fill="none"/>
<rect x="619.7" y="442.3" width="4.6" height="4.6" fill="#f5b035"/>
<path d="M664.9,446.6V452.8M662.65,446.6h4.5M662.65,452.8h4.5" stroke="#f5b035" stroke-width="1.3" fill="none"/>
<rect x="662.6" y="447.4" width="4.6" height="4.6" fill="#f5b035"/>
<path d="M679.5,445.5V450M677.25,445.5h4.5M677.25,450h4.5" stroke="#f5b035" stroke-width="1.3" fill="none"/>
<rect x="677.2" y="445.4" width="4.6" height="4.6" fill="#f5b035"/>
<line x1="63" y1="1078.7" x2="314.5" y2="1078.7" stroke="#111" stroke-width="1.4"/>
<path d="M63,1078.7v3.4M80.94,1078.7v2.2M91.44,1078.7v2.2M98.88,1078.7v2.2M104.66,1078.7v2.2M109.38,1078.7v2.2M113.37,1078.7v2.2M116.82,1078.7v2.2M119.87,1078.7v2.2M122.6,1078.7v3.4M140.54,1078.7v2.2M151.04,1078.7v2.2M158.48,1078.7v2.2M164.26,1078.7v2.2M168.98,1078.7v2.2M172.97,1078.7v2.2M176.42,1078.7v2.2M179.47,1078.7v2.2M182.2,1078.7v3.4M200.14,1078.7v2.2M210.64,1078.7v2.2M218.08,1078.7v2.2M223.86,1078.7v2.2M228.58,1078.7v2.2M232.57,1078.7v2.2M236.02,1078.7v2.2M239.07,1078.7v2.2M241.8,1078.7v3.4M259.74,1078.7v2.2M270.24,1078.7v2.2M277.68,1078.7v2.2M283.46,1078.7v2.2M288.18,1078.7v2.2M292.17,1078.7v2.2M295.62,1078.7v2.2M298.67,1078.7v2.2M301.4,1078.7v3.4" stroke="#111" stroke-width="1.1" fill="none"/>
<line x1="63" y1="1079.4" x2="63" y2="827.2" stroke="#111" stroke-width="1.4"/>
<path d="M63,1078.7h-3.3M63,1015.83h-3.3M63,952.95h-3.3M63,890.08h-3.3M63,827.2h-3.3" stroke="#111" stroke-width="1.1" fill="none"/>
<text x="57.6" y="1082" font-size="9.3" text-anchor="end" font-weight="bold" fill="#111" >0</text>
<text x="58.6" y="1019.23" font-size="9.5" font-weight="bold" text-anchor="end" fill="#111">9.0<tspan font-weight="normal">×</tspan>10<tspan font-size="6" dy="-3.6">5</tspan></text>
<text x="58.6" y="956.35" font-size="9.5" font-weight="bold" text-anchor="end" fill="#111">1.8<tspan font-weight="normal">×</tspan>10<tspan font-size="6" dy="-3.6">6</tspan></text>
<text x="58.6" y="893.48" font-size="9.5" font-weight="bold" text-anchor="end" fill="#111">2.7<tspan font-weight="normal">×</tspan>10<tspan font-size="6" dy="-3.6">6</tspan></text>
<text x="58.6" y="830.6" font-size="9.5" font-weight="bold" text-anchor="end" fill="#111">3.6<tspan font-weight="normal">×</tspan>10<tspan font-size="6" dy="-3.6">6</tspan></text>
<text x="63" y="1092.2" font-size="9.2" text-anchor="middle" font-weight="bold" fill="#111" >0.001</text>
<text x="122.6" y="1092.2" font-size="9.2" text-anchor="middle" font-weight="bold" fill="#111" >0.01</text>
<text x="182.2" y="1092.2" font-size="9.2" text-anchor="middle" font-weight="bold" fill="#111" >0.1</text>
<text x="241.8" y="1092.2" font-size="9.2" text-anchor="middle" font-weight="bold" fill="#111" >1</text>
<text x="301.4" y="1092.2" font-size="9.2" text-anchor="middle" font-weight="bold" fill="#111" >10</text>
<text transform="translate(10.2,951.8) rotate(-90)" font-size="12.3" font-weight="bold" text-anchor="middle" fill="#000">Mean YFP Fluorescence</text>
<text x="188.5" y="1108.2" font-size="12.1" font-weight="bold" text-anchor="middle" fill="#000">[IPTG] <tspan font-weight="normal">μ</tspan>M</text>
<line x1="218.1" y1="988.8" x2="233" y2="988.8" stroke="#45a4ee" stroke-width="1.6" />
<circle cx="225.55" cy="988.8" r="2.6" fill="#45a4ee"/>
<line x1="218.1" y1="1003.9" x2="233" y2="1003.9" stroke="#f5b035" stroke-width="1.6" />
<rect x="223.15" y="1001.5" width="4.8" height="4.8" fill="#f5b035"/>
<text transform="translate(239.2,992.8) scale(1,1.1)" font-size="9.8" text-anchor="start" font-weight="normal" fill="#1a1a1a" >Autogenous</text>
<text transform="translate(239.2,1007.9) scale(1,1.1)" font-size="9.8" text-anchor="start" font-weight="normal" fill="#1a1a1a" >Classical</text>
<polyline points="63.5,979.81 64.5,979.59 65.5,979.36 66.5,979.13 67.49,978.89 68.49,978.65 69.49,978.39 70.49,978.13 71.49,977.86 72.49,977.58 73.48,977.3 74.48,977 75.48,976.7 76.48,976.38 77.48,976.06 78.48,975.73 79.47,975.38 80.47,975.03 81.47,974.66 82.47,974.29 83.47,973.9 84.47,973.5 85.46,973.08 86.46,972.66 87.46,972.22 88.46,971.77 89.46,971.3 90.46,970.82 91.46,970.32 92.45,969.81 93.45,969.29 94.45,968.74 95.45,968.18 96.45,967.61 97.45,967.01 98.44,966.4 99.44,965.77 100.44,965.11 101.44,964.44 102.44,963.75 103.44,963.04 104.43,962.3 105.43,961.54 106.43,960.76 107.43,959.96 108.43,959.13 109.43,958.27 110.43,957.39 111.42,956.48 112.42,955.55 113.42,954.58 114.42,953.59 115.42,952.57 116.42,951.52 117.41,950.43 118.41,949.32 119.41,948.17 120.41,946.99 121.41,945.77 122.41,944.52 123.4,943.24 124.4,941.92 125.4,940.57 126.4,939.17 127.4,937.75 128.4,936.28 129.39,934.78 130.39,933.25 131.39,931.68 132.39,930.08 133.39,928.44 134.39,926.77 135.39,925.08 136.38,923.35 137.38,921.6 138.38,919.84 139.38,918.05 140.38,916.25 141.38,914.44 142.37,912.64 143.37,910.83 144.37,909.03 145.37,907.26 146.37,905.5 147.37,903.77 148.36,902.08 149.36,900.44 150.36,898.85 151.36,897.31 152.36,895.84 153.36,894.43 154.35,893.1 155.35,891.84 156.35,890.66 157.35,889.56 158.35,888.53 159.35,887.58 160.35,886.7 161.34,885.9 162.34,885.16 163.34,884.49 164.34,883.89 165.34,883.34 166.34,882.85 167.33,882.4 168.33,882.01 169.33,881.65 170.33,881.33 171.33,881.05 172.33,880.8 173.32,880.58 174.32,880.38 175.32,880.2 176.32,880.05 177.32,879.91 178.32,879.79 179.32,879.68 180.31,879.59 181.31,879.51 182.31,879.43 183.31,879.37 184.31,879.31 185.31,879.26 186.3,879.22 187.3,879.18 188.3,879.14 189.3,879.11 190.3,879.09 191.3,879.07 192.29,879.05 193.29,879.03 194.29,879.01 195.29,879 196.29,878.99 197.29,878.98 198.28,878.97 199.28,878.96 200.28,878.95 201.28,878.94 202.28,878.94 203.28,878.93 204.28,878.93 205.27,878.93 206.27,878.92 207.27,878.92 208.27,878.92 209.27,878.92 210.27,878.91 211.26,878.91 212.26,878.91 213.26,878.91 214.26,878.91 215.26,878.91 216.26,878.91 217.25,878.91 218.25,878.9 219.25,878.9 220.25,878.9 221.25,878.9 222.25,878.9 223.25,878.9 224.24,878.9 225.24,878.9 226.24,878.9 227.24,878.9 228.24,878.9 229.24,878.9 230.23,878.9 231.23,878.9 232.23,878.9 233.23,878.9 234.23,878.9 235.23,878.9 236.22,878.9 237.22,878.9 238.22,878.9 239.22,878.9 240.22,878.9 241.22,878.9 242.21,878.9 243.21,878.9 244.21,878.9 245.21,878.9 246.21,878.9 247.21,878.9 248.21,878.9 249.2,878.9 250.2,878.9 251.2,878.9 252.2,878.9 253.2,878.9 254.2,878.9 255.19,878.9 256.19,878.9 257.19,878.9 258.19,878.9 259.19,878.9 260.19,878.9 261.18,878.9 262.18,878.9 263.18,878.9 264.18,878.9 265.18,878.9 266.18,878.9 267.17,878.9 268.17,878.9 269.17,878.9 270.17,878.9 271.17,878.9 272.17,878.9 273.17,878.9 274.16,878.9 275.16,878.9 276.16,878.9 277.16,878.9 278.16,878.9 279.16,878.9 280.15,878.9 281.15,878.9 282.15,878.9 283.15,878.9 284.15,878.9 285.15,878.9 286.14,878.9 287.14,878.9 288.14,878.9 289.14,878.9 290.14,878.9 291.14,878.9 292.14,878.9 293.13,878.9 294.13,878.9 295.13,878.9 296.13,878.9 297.13,878.9 298.13,878.9 299.12,878.9 300.12,878.9 301.12,878.9 302.12,878.9 303.12,878.9 304.12,878.9 305.11,878.9 306.11,878.9 307.11,878.9 308.11,878.9 309.11,878.9 310.11,878.9 311.1,878.9 312.1,878.9 313.1,878.9 314.1,878.9" fill="none" stroke="#f5b035" stroke-width="1.6" stroke-linejoin="round"/>
<path d="M80,969.3V982.2M77.5,969.3h5M77.5,982.2h5" stroke="#f5b035" stroke-width="1.8" fill="none"/>
<circle cx="80" cy="976.1" r="2.5" fill="#f5b035"/>
<path d="M98.2,949.9V978.5M95.7,949.9h5M95.7,978.5h5" stroke="#f5b035" stroke-width="1.8" fill="none"/>
<circle cx="98.2" cy="964.5" r="2.5" fill="#f5b035"/>
<path d="M116.2,945.8V957.7M113.7,945.8h5M113.7,957.7h5" stroke="#f5b035" stroke-width="1.8" fill="none"/>
<circle cx="116.2" cy="952" r="2.5" fill="#f5b035"/>
<path d="M134.6,910.7V929.9M132.1,910.7h5M132.1,929.9h5" stroke="#f5b035" stroke-width="1.8" fill="none"/>
<circle cx="134.6" cy="920.9" r="2.5" fill="#f5b035"/>
<path d="M152.4,887.6V917.6M149.9,887.6h5M149.9,917.6h5" stroke="#f5b035" stroke-width="1.8" fill="none"/>
<circle cx="152.4" cy="902.5" r="2.5" fill="#f5b035"/>
<path d="M170.4,864.5V890.2M167.9,864.5h5M167.9,890.2h5" stroke="#f5b035" stroke-width="1.8" fill="none"/>
<circle cx="170.4" cy="878" r="2.5" fill="#f5b035"/>
<path d="M188.2,879.9V895.6M185.7,879.9h5M185.7,895.6h5" stroke="#f5b035" stroke-width="1.8" fill="none"/>
<circle cx="188.2" cy="884.6" r="2.5" fill="#f5b035"/>
<path d="M206.2,848.2V866.6M203.7,848.2h5M203.7,866.6h5" stroke="#f5b035" stroke-width="1.8" fill="none"/>
<circle cx="206.2" cy="857.8" r="2.5" fill="#f5b035"/>
<path d="M224.3,855.7V895.2M221.8,855.7h5M221.8,895.2h5" stroke="#f5b035" stroke-width="1.8" fill="none"/>
<circle cx="224.3" cy="876.2" r="2.5" fill="#f5b035"/>
<path d="M242.3,871V882.3M239.8,871h5M239.8,882.3h5" stroke="#f5b035" stroke-width="1.8" fill="none"/>
<circle cx="242.3" cy="876.8" r="2.5" fill="#f5b035"/>
<path d="M260.3,865.5V893.5M257.8,865.5h5M257.8,893.5h5" stroke="#f5b035" stroke-width="1.8" fill="none"/>
<circle cx="260.3" cy="879.2" r="2.5" fill="#f5b035"/>
<path d="M278.1,882.9V894.2M275.6,882.9h5M275.6,894.2h5" stroke="#f5b035" stroke-width="1.8" fill="none"/>
<circle cx="278.1" cy="888" r="2.5" fill="#f5b035"/>
<path d="M296.1,866.6V883.3M293.6,866.6h5M293.6,883.3h5" stroke="#f5b035" stroke-width="1.8" fill="none"/>
<circle cx="296.1" cy="875.2" r="2.5" fill="#f5b035"/>
<path d="M314.1,868V903M311.6,868h5M311.6,903h5" stroke="#f5b035" stroke-width="1.8" fill="none"/>
<circle cx="314.1" cy="892.7" r="2.5" fill="#f5b035"/>
<polyline points="63.5,999.75 64.5,999.68 65.5,999.61 66.5,999.54 67.49,999.46 68.49,999.38 69.49,999.3 70.49,999.21 71.49,999.12 72.49,999.02 73.48,998.92 74.48,998.82 75.48,998.71 76.48,998.6 77.48,998.48 78.48,998.36 79.47,998.24 80.47,998.11 81.47,997.97 82.47,997.83 83.47,997.68 84.47,997.53 85.46,997.37 86.46,997.2 87.46,997.03 88.46,996.84 89.46,996.66 90.46,996.46 91.46,996.26 92.45,996.04 93.45,995.82 94.45,995.59 95.45,995.35 96.45,995.11 97.45,994.85 98.44,994.58 99.44,994.3 100.44,994 101.44,993.7 102.44,993.38 103.44,993.05 104.43,992.71 105.43,992.35 106.43,991.98 107.43,991.6 108.43,991.2 109.43,990.78 110.43,990.34 111.42,989.89 112.42,989.42 113.42,988.93 114.42,988.42 115.42,987.89 116.42,987.34 117.41,986.77 118.41,986.18 119.41,985.56 120.41,984.92 121.41,984.25 122.41,983.56 123.4,982.84 124.4,982.09 125.4,981.32 126.4,980.51 127.4,979.68 128.4,978.81 129.39,977.92 130.39,976.99 131.39,976.03 132.39,975.03 133.39,974 134.39,972.93 135.39,971.83 136.38,970.69 137.38,969.51 138.38,968.3 139.38,967.05 140.38,965.76 141.38,964.43 142.37,963.07 143.37,961.67 144.37,960.24 145.37,958.77 146.37,957.27 147.37,955.73 148.36,954.17 149.36,952.58 150.36,950.96 151.36,949.32 152.36,947.66 153.36,945.98 154.35,944.29 155.35,942.59 156.35,940.88 157.35,939.17 158.35,937.47 159.35,935.77 160.35,934.09 161.34,932.42 162.34,930.77 163.34,929.15 164.34,927.56 165.34,926.01 166.34,924.49 167.33,923.01 168.33,921.58 169.33,920.2 170.33,918.86 171.33,917.58 172.33,916.35 173.32,915.18 174.32,914.06 175.32,913 176.32,911.99 177.32,911.04 178.32,910.14 179.32,909.29 180.31,908.49 181.31,907.75 182.31,907.05 183.31,906.4 184.31,905.79 185.31,905.23 186.3,904.7 187.3,904.21 188.3,903.76 189.3,903.34 190.3,902.95 191.3,902.6 192.29,902.27 193.29,901.96 194.29,901.68 195.29,901.42 196.29,901.19 197.29,900.97 198.28,900.77 199.28,900.58 200.28,900.41 201.28,900.26 202.28,900.12 203.28,899.99 204.28,899.87 205.27,899.76 206.27,899.66 207.27,899.57 208.27,899.48 209.27,899.41 210.27,899.34 211.26,899.27 212.26,899.22 213.26,899.16 214.26,899.11 215.26,899.07 216.26,899.03 217.25,898.99 218.25,898.96 219.25,898.93 220.25,898.9 221.25,898.87 222.25,898.85 223.25,898.83 224.24,898.81 225.24,898.79 226.24,898.77 227.24,898.76 228.24,898.74 229.24,898.73 230.23,898.72 231.23,898.71 232.23,898.7 233.23,898.69 234.23,898.68 235.23,898.68 236.22,898.67 237.22,898.66 238.22,898.66 239.22,898.65 240.22,898.65 241.22,898.64 242.21,898.64 243.21,898.64 244.21,898.63 245.21,898.63 246.21,898.63 247.21,898.63 248.21,898.62 249.2,898.62 250.2,898.62 251.2,898.62 252.2,898.62 253.2,898.61 254.2,898.61 255.19,898.61 256.19,898.61 257.19,898.61 258.19,898.61 259.19,898.61 260.19,898.61 261.18,898.61 262.18,898.61 263.18,898.61 264.18,898.61 265.18,898.6 266.18,898.6 267.17,898.6 268.17,898.6 269.17,898.6 270.17,898.6 271.17,898.6 272.17,898.6 273.17,898.6 274.16,898.6 275.16,898.6 276.16,898.6 277.16,898.6 278.16,898.6 279.16,898.6 280.15,898.6 281.15,898.6 282.15,898.6 283.15,898.6 284.15,898.6 285.15,898.6 286.14,898.6 287.14,898.6 288.14,898.6 289.14,898.6 290.14,898.6 291.14,898.6 292.14,898.6 293.13,898.6 294.13,898.6 295.13,898.6 296.13,898.6 297.13,898.6 298.13,898.6 299.12,898.6 300.12,898.6 301.12,898.6 302.12,898.6 303.12,898.6 304.12,898.6 305.11,898.6 306.11,898.6 307.11,898.6 308.11,898.6 309.11,898.6 310.11,898.6 311.1,898.6 312.1,898.6 313.1,898.6 314.1,898.6" fill="none" stroke="#45a4ee" stroke-width="1.6" stroke-linejoin="round"/>
<path d="M80,983V1014.7M77.5,983h5M77.5,1014.7h5" stroke="#45a4ee" stroke-width="1.8" fill="none"/>
<rect x="77.5" y="996.5" width="5" height="5" fill="#45a4ee"/>
<path d="M98.2,963.2V1005.1M95.7,963.2h5M95.7,1005.1h5" stroke="#45a4ee" stroke-width="1.8" fill="none"/>
<rect x="95.7" y="981.6" width="5" height="5" fill="#45a4ee"/>
<path d="M116.2,984.1V1002.7M113.7,984.1h5M113.7,1002.7h5" stroke="#45a4ee" stroke-width="1.8" fill="none"/>
<rect x="113.7" y="990.8" width="5" height="5" fill="#45a4ee"/>
<path d="M134.6,956.1V970.4M132.1,956.1h5M132.1,970.4h5" stroke="#45a4ee" stroke-width="1.8" fill="none"/>
<rect x="132.1" y="960.7" width="5" height="5" fill="#45a4ee"/>
<path d="M152.4,933.6V957.1M149.9,933.6h5M149.9,957.1h5" stroke="#45a4ee" stroke-width="1.8" fill="none"/>
<rect x="149.9" y="942.9" width="5" height="5" fill="#45a4ee"/>
<path d="M170.4,912.7V960.1M167.9,912.7h5M167.9,960.1h5" stroke="#45a4ee" stroke-width="1.8" fill="none"/>
<rect x="167.9" y="934.1" width="5" height="5" fill="#45a4ee"/>
<path d="M188.3,873.3V908M185.8,873.3h5M185.8,908h5" stroke="#45a4ee" stroke-width="1.8" fill="none"/>
<rect x="185.8" y="888.2" width="5" height="5" fill="#45a4ee"/>
<rect x="203.7" y="883.5" width="5" height="5" fill="#45a4ee"/>
<path d="M224.3,884V892.1M221.8,884h5M221.8,892.1h5" stroke="#45a4ee" stroke-width="1.8" fill="none"/>
<rect x="221.8" y="885.5" width="5" height="5" fill="#45a4ee"/>
<path d="M242.3,889.7V898.9M239.8,889.7h5M239.8,898.9h5" stroke="#45a4ee" stroke-width="1.8" fill="none"/>
<rect x="239.8" y="891.7" width="5" height="5" fill="#45a4ee"/>
<path d="M260.3,894.2V904.4M257.8,894.2h5M257.8,904.4h5" stroke="#45a4ee" stroke-width="1.8" fill="none"/>
<rect x="257.8" y="896.8" width="5" height="5" fill="#45a4ee"/>
<path d="M278.1,896.8V921.1M275.6,896.8h5M275.6,921.1h5" stroke="#45a4ee" stroke-width="1.8" fill="none"/>
<rect x="275.6" y="906.4" width="5" height="5" fill="#45a4ee"/>
<path d="M296.1,889.7V917.7M293.6,889.7h5M293.6,917.7h5" stroke="#45a4ee" stroke-width="1.8" fill="none"/>
<rect x="293.6" y="901.3" width="5" height="5" fill="#45a4ee"/>
<path d="M314.1,898.7V933M311.6,898.7h5M311.6,933h5" stroke="#45a4ee" stroke-width="1.8" fill="none"/>
<rect x="311.6" y="913.5" width="5" height="5" fill="#45a4ee"/>
<line x1="431.3" y1="1078.6" x2="683.6" y2="1078.6" stroke="#111" stroke-width="1.4"/>
<path d="M431.3,1078.6v3.4M445.84,1078.6v2.2M454.34,1078.6v2.2M460.38,1078.6v2.2M465.06,1078.6v2.2M468.88,1078.6v2.2M472.12,1078.6v2.2M474.92,1078.6v2.2M477.39,1078.6v2.2M479.6,1078.6v3.4M494.14,1078.6v2.2M502.64,1078.6v2.2M508.68,1078.6v2.2M513.36,1078.6v2.2M517.18,1078.6v2.2M520.42,1078.6v2.2M523.22,1078.6v2.2M525.69,1078.6v2.2M527.9,1078.6v3.4M542.44,1078.6v2.2M550.94,1078.6v2.2M556.98,1078.6v2.2M561.66,1078.6v2.2M565.48,1078.6v2.2M568.72,1078.6v2.2M571.52,1078.6v2.2M573.99,1078.6v2.2M576.2,1078.6v3.4M590.74,1078.6v2.2M599.24,1078.6v2.2M605.28,1078.6v2.2M609.96,1078.6v2.2M613.78,1078.6v2.2M617.02,1078.6v2.2M619.82,1078.6v2.2M622.29,1078.6v2.2M624.5,1078.6v3.4M639.04,1078.6v2.2M647.54,1078.6v2.2M653.58,1078.6v2.2M658.26,1078.6v2.2M662.08,1078.6v2.2M665.32,1078.6v2.2M668.12,1078.6v2.2M670.59,1078.6v2.2M672.8,1078.6v3.4" stroke="#111" stroke-width="1.1" fill="none"/>
<line x1="431.3" y1="1079.3" x2="431.3" y2="826.9" stroke="#111" stroke-width="1.4"/>
<path d="M431.3,1078.6h-3.3M431.3,1022.72h-3.3M431.3,966.85h-3.3M431.3,910.97h-3.3M431.3,855.1h-3.3" stroke="#111" stroke-width="1.1" fill="none"/>
<text transform="translate(426.3,1082.1) scale(1,1.12)" font-size="9.4" text-anchor="end" font-weight="bold" fill="#111" >0</text>
<text transform="translate(426.3,1026.22) scale(1,1.12)" font-size="9.4" text-anchor="end" font-weight="bold" fill="#111" >50000</text>
<text transform="translate(426.3,970.35) scale(1,1.12)" font-size="9.4" text-anchor="end" font-weight="bold" fill="#111" >100000</text>
<text transform="translate(426.3,914.47) scale(1,1.12)" font-size="9.4" text-anchor="end" font-weight="bold" fill="#111" >150000</text>
<text transform="translate(426.3,858.6) scale(1,1.12)" font-size="9.4" text-anchor="end" font-weight="bold" fill="#111" >200000</text>
<text x="431.3" y="1092.2" font-size="9.2" text-anchor="middle" font-weight="bold" fill="#111" >0.0001</text>
<text x="479.6" y="1092.2" font-size="9.2" text-anchor="middle" font-weight="bold" fill="#111" >0.001</text>
<text x="527.9" y="1092.2" font-size="9.2" text-anchor="middle" font-weight="bold" fill="#111" >0.01</text>
<text x="576.2" y="1092.2" font-size="9.2" text-anchor="middle" font-weight="bold" fill="#111" >0.1</text>
<text x="624.5" y="1092.2" font-size="9.2" text-anchor="middle" font-weight="bold" fill="#111" >1</text>
<text x="672.8" y="1092.2" font-size="9.2" text-anchor="middle" font-weight="bold" fill="#111" >10</text>
<text transform="translate(383.6,953.6) rotate(-90)" font-size="12.25" font-weight="bold" text-anchor="middle" fill="#000">Mean Luminescence</text>
<text x="556.5" y="1108.5" font-size="12.1" font-weight="bold" text-anchor="middle" fill="#000">[IPTG] <tspan font-weight="normal">μ</tspan>M</text>
<polyline points="432,1004.39 433,1004.37 434,1004.35 435,1004.32 436,1004.3 437,1004.27 438,1004.24 439,1004.21 440,1004.18 441,1004.15 442,1004.12 443,1004.09 444,1004.05 444.99,1004.02 445.99,1003.98 446.99,1003.94 447.99,1003.9 448.99,1003.86 449.99,1003.81 450.99,1003.77 451.99,1003.72 452.99,1003.67 453.99,1003.62 454.99,1003.57 455.99,1003.51 456.99,1003.46 457.99,1003.4 458.99,1003.34 459.99,1003.27 460.99,1003.21 461.99,1003.14 462.99,1003.07 463.99,1002.99 464.99,1002.92 465.99,1002.84 466.99,1002.75 467.99,1002.67 468.99,1002.58 469.98,1002.48 470.98,1002.39 471.98,1002.29 472.98,1002.18 473.98,1002.07 474.98,1001.96 475.98,1001.84 476.98,1001.72 477.98,1001.59 478.98,1001.46 479.98,1001.33 480.98,1001.19 481.98,1001.04 482.98,1000.89 483.98,1000.73 484.98,1000.56 485.98,1000.39 486.98,1000.21 487.98,1000.03 488.98,999.84 489.98,999.64 490.98,999.43 491.98,999.21 492.98,998.99 493.98,998.76 494.97,998.52 495.97,998.27 496.97,998.01 497.97,997.74 498.97,997.46 499.97,997.17 500.97,996.86 501.97,996.55 502.97,996.22 503.97,995.88 504.97,995.53 505.97,995.17 506.97,994.79 507.97,994.39 508.97,993.98 509.97,993.56 510.97,993.11 511.97,992.66 512.97,992.18 513.97,991.68 514.97,991.17 515.97,990.64 516.97,990.08 517.97,989.51 518.97,988.91 519.96,988.29 520.96,987.65 521.96,986.98 522.96,986.29 523.96,985.57 524.96,984.83 525.96,984.05 526.96,983.25 527.96,982.42 528.96,981.56 529.96,980.66 530.96,979.73 531.96,978.77 532.96,977.78 533.96,976.75 534.96,975.68 535.96,974.58 536.96,973.44 537.96,972.25 538.96,971.03 539.96,969.77 540.96,968.47 541.96,967.13 542.96,965.74 543.96,964.32 544.95,962.85 545.95,961.34 546.95,959.79 547.95,958.19 548.95,956.56 549.95,954.89 550.95,953.18 551.95,951.44 552.95,949.67 553.95,947.86 554.95,946.03 555.95,944.18 556.95,942.31 557.95,940.42 558.95,938.52 559.95,936.62 560.95,934.72 561.95,932.82 562.95,930.94 563.95,929.08 564.95,927.24 565.95,925.43 566.95,923.66 567.95,921.93 568.95,920.24 569.94,918.61 570.94,917.04 571.94,915.53 572.94,914.08 573.94,912.69 574.94,911.38 575.94,910.13 576.94,908.95 577.94,907.84 578.94,906.8 579.94,905.83 580.94,904.92 581.94,904.07 582.94,903.29 583.94,902.56 584.94,901.89 585.94,901.28 586.94,900.71 587.94,900.19 588.94,899.71 589.94,899.27 590.94,898.87 591.94,898.51 592.94,898.18 593.94,897.87 594.93,897.6 595.93,897.35 596.93,897.12 597.93,896.92 598.93,896.73 599.93,896.56 600.93,896.41 601.93,896.27 602.93,896.15 603.93,896.04 604.93,895.93 605.93,895.84 606.93,895.76 607.93,895.68 608.93,895.62 609.93,895.55 610.93,895.5 611.93,895.45 612.93,895.41 613.93,895.37 614.93,895.33 615.93,895.3 616.93,895.27 617.93,895.24 618.93,895.22 619.92,895.19 620.92,895.18 621.92,895.16 622.92,895.14 623.92,895.13 624.92,895.12 625.92,895.1 626.92,895.09 627.92,895.08 628.92,895.08 629.92,895.07 630.92,895.06 631.92,895.06 632.92,895.05 633.92,895.04 634.92,895.04 635.92,895.04 636.92,895.03 637.92,895.03 638.92,895.03 639.92,895.02 640.92,895.02 641.92,895.02 642.92,895.02 643.92,895.02 644.91,895.01 645.91,895.01 646.91,895.01 647.91,895.01 648.91,895.01 649.91,895.01 650.91,895.01 651.91,895.01 652.91,895.01 653.91,895.01 654.91,895 655.91,895 656.91,895 657.91,895 658.91,895 659.91,895 660.91,895 661.91,895 662.91,895 663.91,895 664.91,895 665.91,895 666.91,895 667.91,895 668.91,895 669.9,895 670.9,895 671.9,895 672.9,895 673.9,895 674.9,895 675.9,895 676.9,895 677.9,895 678.9,895 679.9,895 680.9,895 681.9,895" fill="none" stroke="#45a4ee" stroke-width="1.6" stroke-linejoin="round"/>
<circle cx="464.9" cy="1031.8" r="2.8" fill="#45a4ee"/>
<path d="M479.4,1003.1V1012.1M477.1,1003.1h4.6M477.1,1012.1h4.6" stroke="#45a4ee" stroke-width="2.1" fill="none"/>
<circle cx="479.4" cy="1007.8" r="2.8" fill="#45a4ee"/>
<path d="M493.6,1007.8V1016.8M491.3,1007.8h4.6M491.3,1016.8h4.6" stroke="#45a4ee" stroke-width="2.1" fill="none"/>
<circle cx="493.6" cy="1012.4" r="2.8" fill="#45a4ee"/>
<path d="M508.5,969.3V989M506.2,969.3h4.6M506.2,989h4.6" stroke="#45a4ee" stroke-width="2.1" fill="none"/>
<circle cx="508.5" cy="979" r="2.8" fill="#45a4ee"/>
<path d="M522.8,953.2V969.3M520.5,953.2h4.6M520.5,969.3h4.6" stroke="#45a4ee" stroke-width="2.1" fill="none"/>
<circle cx="522.8" cy="960.9" r="2.8" fill="#45a4ee"/>
<path d="M537.5,951.8V968.5M535.2,951.8h4.6M535.2,968.5h4.6" stroke="#45a4ee" stroke-width="2.1" fill="none"/>
<circle cx="537.5" cy="960.2" r="2.8" fill="#45a4ee"/>
<path d="M551.8,938.7V960.9M549.5,938.7h4.6M549.5,960.9h4.6" stroke="#45a4ee" stroke-width="2.1" fill="none"/>
<circle cx="551.8" cy="950.1" r="2.8" fill="#45a4ee"/>
<path d="M566.7,950.1V970.2M564.4,950.1h4.6M564.4,970.2h4.6" stroke="#45a4ee" stroke-width="2.1" fill="none"/>
<circle cx="566.7" cy="959.7" r="2.8" fill="#45a4ee"/>
<path d="M581.4,874.2V920M579.1,874.2h4.6M579.1,920h4.6" stroke="#45a4ee" stroke-width="2.1" fill="none"/>
<circle cx="581.4" cy="897.2" r="2.8" fill="#45a4ee"/>
<path d="M595.6,891.4V905.9M593.3,891.4h4.6M593.3,905.9h4.6" stroke="#45a4ee" stroke-width="2.1" fill="none"/>
<circle cx="595.6" cy="898.6" r="2.8" fill="#45a4ee"/>
<path d="M610.2,851.6V904.3M607.9,851.6h4.6M607.9,904.3h4.6" stroke="#45a4ee" stroke-width="2.1" fill="none"/>
<circle cx="610.2" cy="877.8" r="2.8" fill="#45a4ee"/>
<path d="M624.4,883.9V935.3M622.1,883.9h4.6M622.1,935.3h4.6" stroke="#45a4ee" stroke-width="2.1" fill="none"/>
<circle cx="624.4" cy="909.8" r="2.8" fill="#45a4ee"/>
<path d="M639,836.8V899.7M636.7,836.8h4.6M636.7,899.7h4.6" stroke="#45a4ee" stroke-width="2.1" fill="none"/>
<circle cx="639" cy="868.4" r="2.8" fill="#45a4ee"/>
<path d="M653.6,890.6V916.2M651.3,890.6h4.6M651.3,916.2h4.6" stroke="#45a4ee" stroke-width="2.1" fill="none"/>
<circle cx="653.6" cy="903" r="2.8" fill="#45a4ee"/>
<path d="M668.2,896.6V919.8M665.9,896.6h4.6M665.9,919.8h4.6" stroke="#45a4ee" stroke-width="2.1" fill="none"/>
<circle cx="668.2" cy="908.5" r="2.8" fill="#45a4ee"/>
</svg></body></html>
